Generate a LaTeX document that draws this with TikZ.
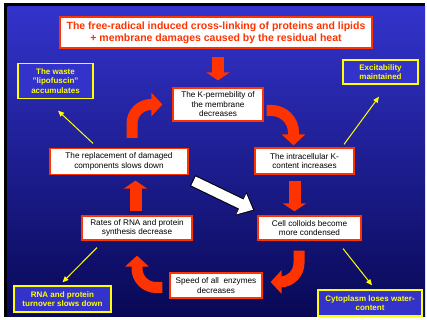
\documentclass[tikz,border=0pt]{standalone}
\usepackage{fontspec}
\setmainfont{Liberation Sans}
\usetikzlibrary{arrows.meta, positioning, calc}
\definecolor{slidered}{RGB}{255,51,0}
\definecolor{slideyellow}{RGB}{255,255,0}
\definecolor{slidetop}{RGB}{51,51,204}
\definecolor{slidebottom}{RGB}{8,8,85}

\begin{document}
\begin{tikzpicture}[
        x=1pt, y=1pt,
        box/.style={rectangle, draw=slidered, line width=1.2pt, fill=white, align=center, inner sep=1pt, font=\fontsize{8.2}{9.5}\selectfont},
        headbox/.style={box, text=slidered, font=\bfseries\fontsize{10.5}{12}\selectfont},
        note/.style={rectangle, draw=slideyellow, line width=1.3pt, fill=slidetop, text=slideyellow, align=center, inner sep=1pt, font=\bfseries\fontsize{8}{9.5}\selectfont},
        bigarrow/.style={slidered, line width=12pt, -{Triangle[width=23pt, length=8pt]}},
        bendarrow/.style={slidered, line width=11pt, rounded corners=19pt, -{Triangle[width=23pt, length=11pt]}},
        thinarrow/.style={slideyellow, line width=1pt, -{Triangle[width=5pt, length=6pt]}}
    ]
    \useasboundingbox (0,0) rectangle (427,320);
    \fill[white] (0,0) rectangle (427,320);
    \fill[black] (4,3) rectangle (425,317);
    \shade[top color=slidetop, bottom color=slidebottom] (7.5,3) rectangle (425,313.5);

    % boxes of the cycle
    \node[headbox, minimum width=312pt, minimum height=31pt] (cause) at (216,287.5)
        {The free-radical induced cross-linking of proteins and lipids\\+ membrane damages caused by the residual heat};
    \node[box, minimum width=90pt, minimum height=33pt] (kperm) at (218,215.5) {The K-permebility of\\the membrane\\decreases};
    \node[box, minimum width=138pt, minimum height=26pt] (replace) at (119,158.5) {The replacement of damaged\\components slows down};
    \node[box, minimum width=99pt, minimum height=26pt] (intra) at (304.5,159) {The intracellular K-\\content increases};
    \node[box, minimum width=110pt, minimum height=24pt] (rates) at (137,92) {Rates of RNA and protein\\synthesis decrease};
    \node[box, minimum width=103pt, minimum height=24pt] (colloid) at (309.5,92) {Cell colloids become\\more condensed};
    \node[box, minimum width=92pt, minimum height=25pt] (speed) at (216,34.5) {Speed of all\ \ enzymes\\decreases};

    % consequences
    \node[note, minimum width=75pt, minimum height=35pt] (waste) at (55.5,239) {The waste\\"lipofuscin"\\accumulates};
    \node[note, minimum width=75pt, minimum height=24pt] (excit) at (380.5,248) {Excitability\\maintained};
    \node[note, minimum width=97pt, minimum height=26pt] (turnover) at (62.5,21) {RNA and protein\\turnover slows down};
    \node[note, minimum width=104pt, minimum height=26pt] (cyto) at (370,17) {Cytoplasm loses water-\\content};

    \draw[bigarrow] ([yshift=-8pt]cause.south -| kperm.north) -- ([yshift=7pt]kperm.north);
    \draw[bendarrow, rounded corners=22pt] ([xshift=3pt, yshift=-6pt]kperm.east) -| ([xshift=-11pt, yshift=2pt]intra.north);
    \draw[bigarrow] ([xshift=-10pt, yshift=-6pt]intra.south) -- ([xshift=-15pt, yshift=4pt]colloid.north);
    \draw[bendarrow] ([xshift=-10.5pt, yshift=-10pt]colloid.south) |- ([xshift=8pt, yshift=3.5pt]speed.east);
    \draw[bendarrow] ([xshift=-7pt, yshift=-2pt]speed.west) -| ([yshift=-15pt]rates.south);
    \draw[bigarrow] ([xshift=-1.5pt, yshift=4pt]rates.north) -- ([xshift=16.5pt, yshift=-5.5pt]replace.south);
    \draw[bendarrow] ([xshift=13pt, yshift=10pt]replace.north) |- ([xshift=-10pt]kperm.west);

    % white arrow across the cycle
    \draw[black, line width=12pt, -{Triangle[width=25pt, length=15pt]}] ([xshift=4pt, yshift=-5.5pt]replace.south east) -- ([xshift=-3pt, yshift=5pt]colloid.north west);
    \draw[white, line width=10pt, shorten <=1pt, shorten >=1.5pt, -{Triangle[width=22pt, length=13pt]}] ([xshift=4pt, yshift=-5.5pt]replace.south east) -- ([xshift=-3pt, yshift=5pt]colloid.north west);

    \draw[thinarrow] ([xshift=-26pt, yshift=4.5pt]replace.north) -- ([xshift=2.5pt, yshift=-11.5pt]waste.south);
    \draw[thinarrow] ([xshift=39.5pt, yshift=3pt]intra.north) -- ([xshift=-1.5pt, yshift=-12pt]excit.south);
    \draw[thinarrow] ([xshift=-40pt, yshift=-7pt]rates.south) -- ([yshift=3pt]turnover.north);
    \draw[thinarrow] ([xshift=33.5pt, yshift=-8pt]colloid.south) -- ([xshift=2pt, yshift=4pt]cyto.north);
\end{tikzpicture}
\end{document}
